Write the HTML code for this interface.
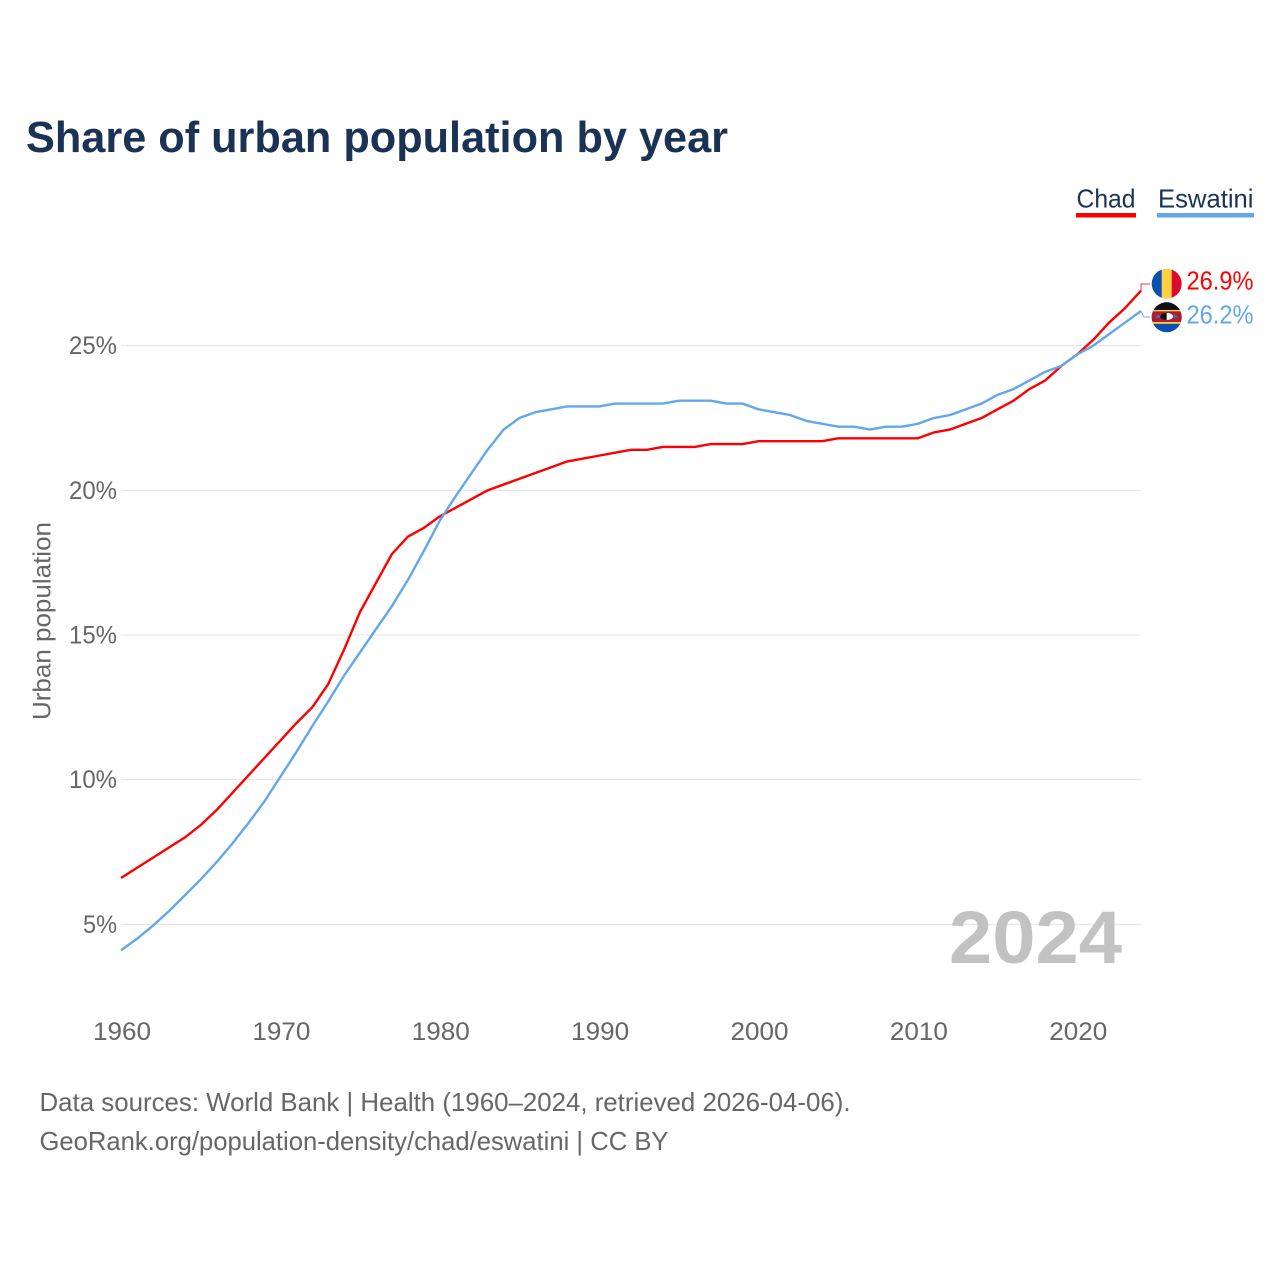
<!DOCTYPE html>
<html lang="en">
<head>
<meta charset="utf-8">
<title>Share of urban population by year</title>
<style>
html,body{margin:0;padding:0;background:#fff;width:1280px;height:1280px;overflow:hidden}
svg{display:block}
text{font-family:"Liberation Sans",sans-serif}
</style>
</head>
<body>
<svg id="chart" xmlns="http://www.w3.org/2000/svg" width="1280" height="1280" viewBox="0 0 1280 1280">
  <defs>
    <clipPath id="flag-clip-chad"><circle cx="1166.7" cy="283.7" r="15"/></clipPath>
    <clipPath id="flag-clip-eswatini"><circle cx="1166.7" cy="317.3" r="15"/></clipPath>
  </defs>
  <rect width="1280" height="1280" fill="#fff"/>
  <text x="26" y="152" font-size="44" font-weight="700" fill="#1a3354" textLength="702" lengthAdjust="spacingAndGlyphs">Share of urban population by year</text>

  <g>
    <g>
      <text x="1076.5" y="207.5" font-size="26" fill="#1a3354" textLength="59" lengthAdjust="spacingAndGlyphs">Chad</text>
      <rect x="1076" y="213" width="60" height="4.5" fill="#ff0000"/>
    </g>
    <g>
      <text x="1158" y="207.5" font-size="26" fill="#1a3354" textLength="95.5" lengthAdjust="spacingAndGlyphs">Eswatini</text>
      <rect x="1157" y="213" width="97" height="4.5" fill="#63a7ea"/>
    </g>
  </g>

  <g id="grid"></g>
  <g id="y-axis"></g>
  <g id="x-axis"></g>
  <text transform="translate(50.5,720) rotate(-90)" font-size="25" fill="#666" textLength="198" lengthAdjust="spacingAndGlyphs">Urban population</text>

  <text x="1122" y="963" text-anchor="end" font-size="74" font-weight="700" fill="#c2c2c2" textLength="173" lengthAdjust="spacingAndGlyphs">2024</text>

  <g id="series"></g>
  <g id="end-labels"></g>

  <g clip-path="url(#flag-clip-chad)">
    <rect x="1151" y="268" width="11" height="32" fill="#0a50b0"/>
    <rect x="1161.7" y="268" width="10.2" height="32" fill="#fdd13f"/>
    <rect x="1171.7" y="268" width="11" height="32" fill="#dc0a2d"/>
  </g>
  <g clip-path="url(#flag-clip-eswatini)">
    <rect x="1151" y="302" width="32" height="31" fill="#0a50b0"/>
    <rect x="1151" y="302" width="32" height="8" fill="#111"/>
    <rect x="1151" y="310" width="32" height="1.4" fill="#fdd13f"/>
    <rect x="1151" y="311.4" width="32" height="10.6" fill="#b01c2e"/>
    <rect x="1151" y="322" width="32" height="1.8" fill="#fdd13f"/>
    <rect x="1157" y="315.9" width="20" height="0.9" fill="#e8d8a0"/>
    <path d="M1155 316.5l3-2 3 2-3 2zM1172 316.5l3-2 3 2-3 2z" fill="#3c6fb0"/>
    <ellipse cx="1166.7" cy="316.5" rx="6.4" ry="3.6" fill="#111"/>
    <path d="M1166.7 312.9a6.4 3.6 0 0 1 0 7.2z" fill="#fff"/>
  </g>

  <text x="39.5" y="1111" font-size="26" fill="#666" textLength="811" lengthAdjust="spacingAndGlyphs">Data sources: World Bank | Health (1960–2024, retrieved 2026-04-06).</text>
  <text x="39.5" y="1150" font-size="26" fill="#666" textLength="629" lengthAdjust="spacingAndGlyphs">GeoRank.org/population-density/chad/eswatini | CC BY</text>
</svg>
<script>
const years = [1960,1961,1962,1963,1964,1965,1966,1967,1968,1969,1970,1971,1972,1973,1974,1975,1976,1977,1978,1979,1980,1981,1982,1983,1984,1985,1986,1987,1988,1989,1990,1991,1992,1993,1994,1995,1996,1997,1998,1999,2000,2001,2002,2003,2004,2005,2006,2007,2008,2009,2010,2011,2012,2013,2014,2015,2016,2017,2018,2019,2020,2021,2022,2023,2024];
const chadValues = [6.6,6.95,7.3,7.65,8.0,8.43,8.95,9.55,10.15,10.75,11.35,11.95,12.5,13.3,14.5,15.8,16.8,17.8,18.4,18.7,19.1,19.4,19.7,20.0,20.2,20.4,20.6,20.8,21.0,21.1,21.2,21.3,21.4,21.4,21.5,21.5,21.5,21.6,21.6,21.6,21.7,21.7,21.7,21.7,21.7,21.8,21.8,21.8,21.8,21.8,21.8,22.0,22.1,22.3,22.5,22.8,23.1,23.5,23.8,24.3,24.7,25.2,25.8,26.3,26.9];
const eswatiniValues = [4.1,4.5,4.95,5.45,6.0,6.55,7.15,7.8,8.5,9.25,10.1,10.95,11.85,12.7,13.6,14.4,15.2,16.0,16.9,17.9,18.95,19.8,20.6,21.4,22.1,22.5,22.7,22.8,22.9,22.9,22.9,23.0,23.0,23.0,23.0,23.1,23.1,23.1,23.0,23.0,22.8,22.7,22.6,22.4,22.3,22.2,22.2,22.1,22.2,22.2,22.3,22.5,22.6,22.8,23.0,23.3,23.5,23.8,24.1,24.3,24.7,25.0,25.4,25.8,26.2];
const yTicks = [5,10,15,20,25];
const yTickLabels = ['5%','10%','15%','20%','25%'];
const xTicks = [1960,1970,1980,1990,2000,2010,2020];
const xTickLabels = ['1960','1970','1980','1990','2000','2010','2020'];
const chadEndLabel = '26.9%';
const eswatiniEndLabel = '26.2%';

const NS = 'http://www.w3.org/2000/svg';
function xScale(year){ return 121 + (year - 1960) * (1020 / 64); }
function yScale(value){ return 924.3 - (value - 5) * 28.93; }
function make(tag, parent, attrs, content){
  const el = document.createElementNS(NS, tag);
  Object.keys(attrs).forEach(function(k){ el.setAttribute(k, attrs[k]); });
  if (content !== undefined) el.textContent = content;
  parent.appendChild(el);
  return el;
}

const grid = document.getElementById('grid');
const yAxis = document.getElementById('y-axis');
const xAxis = document.getElementById('x-axis');
const seriesGroup = document.getElementById('series');
const endLabels = document.getElementById('end-labels');

yTicks.forEach(function(tick, i){
  const line = make('line', grid, {x1:xScale(1960), x2:xScale(2024), y1:yScale(tick), y2:yScale(tick), stroke:'#e6e6e6', 'stroke-width':1.1});
  
  
  const label = make('text', yAxis, {x:117, y:yScale(tick) + 8.5, 'text-anchor':'end', 'font-size':25, fill:'#666'}, yTickLabels[i]);
  
  
  label.setAttribute('textLength', yTickLabels[i].length === 2 ? 34 : 48);
  label.setAttribute('lengthAdjust', 'spacingAndGlyphs');
});

xTicks.forEach(function(tick, i){
  const label = make('text', xAxis, {x:xScale(tick) + 1, y:1040, 'text-anchor':'middle', 'font-size':25, fill:'#666', textLength:58, lengthAdjust:'spacingAndGlyphs'}, xTickLabels[i]);
  
  
});

function pathFor(values){
  return values.map(function(v, i){ return (i ? 'L' : 'M') + xScale(years[i]).toFixed(2) + ' ' + yScale(v).toFixed(2); }).join('');
}

const chadLine = make('path', seriesGroup, {d:pathFor(chadValues), fill:'none', stroke:'#ff0000', 'stroke-width':2.4, 'stroke-linejoin':'round'});


const eswatiniLine = make('path', seriesGroup, {d:pathFor(eswatiniValues), fill:'none', stroke:'#63a7ea', 'stroke-width':2.4, 'stroke-linejoin':'round'});



const lastX = xScale(years[years.length - 1]);
const chadEndY = yScale(chadValues[chadValues.length - 1]);
const eswatiniEndY = yScale(eswatiniValues[eswatiniValues.length - 1]);
const chadConnector = make('path', endLabels, {d:'M' + lastX + ' ' + chadEndY + 'L' + lastX + ' 284L1150 284', fill:'none', stroke:'#ff0000', 'stroke-width':1, opacity:0.8});


const eswatiniConnector = make('path', endLabels, {d:'M' + lastX + ' ' + eswatiniEndY + 'L1144 317L1150 317', fill:'none', stroke:'#63a7ea', 'stroke-width':1, opacity:0.9});


const chadValueLabel = make('text', endLabels, {x:1186.5, y:289.5, 'font-size':26, fill:'#ff0000', textLength:67, lengthAdjust:'spacingAndGlyphs'}, chadEndLabel);


const eswatiniValueLabel = make('text', endLabels, {x:1186.5, y:323.5, 'font-size':26, fill:'#63a7ea', textLength:67, lengthAdjust:'spacingAndGlyphs'}, eswatiniEndLabel);


</script>
</body>
</html>
